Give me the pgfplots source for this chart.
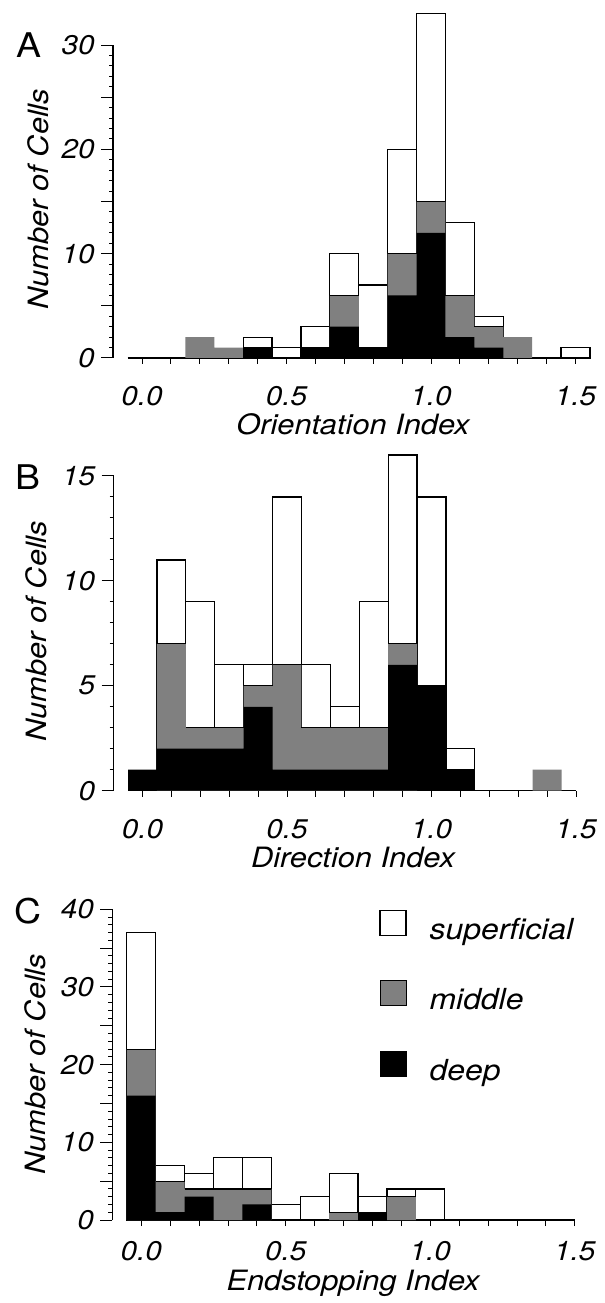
\documentclass[border=0pt]{standalone}
\usepackage{fontspec}
\setmainfont{TeX Gyre Heros}[FakeStretch=1.1]
\usepackage{pgfplots}
\usepackage{pgfplotstable}
\pgfplotsset{compat=1.18}

\definecolor{midgray}{gray}{0.5}

\newcommand\tickfont{\fontsize{13.5}{16}\selectfont\itshape}
\newcommand\labfont{\fontsize{14}{17}\selectfont\itshape}
\newcommand\legfont{\fontsize{14.5}{17}\selectfont\itshape}
\newcommand\panelfont{\fontsize{17}{20}\selectfont}

% cell counts per bin (bin centre x), split by laminar position
\pgfplotstableread{
x    deep mid sup
0.0  0    0   0
0.1  0    0   0
0.2  0    2   0
0.3  0    1   0
0.4  1    0   1
0.5  0    0   1
0.6  1    0   2
0.7  3    3   4
0.8  1    0   6
0.9  6    4   10
1.0  12   3   18
1.1  2    4   7
1.2  1    2   1
1.3  0    2   0
1.4  0    0   0
1.5  0    0   1
}\orientation

\pgfplotstableread{
x    deep mid sup
0.0  1    0   0
0.1  2    5   4
0.2  2    1   6
0.3  2    1   3
0.4  4    1   1
0.5  1    5   8
0.6  1    2   3
0.7  1    2   1
0.8  1    2   6
0.9  6    1   9
1.0  5    0   9
1.1  1    0   1
1.2  0    0   0
1.3  0    0   0
1.4  0    1   0
1.5  0    0   0
}\direction

\pgfplotstableread{
x    deep mid sup
0.0  16   6   15
0.1  1    4   2
0.2  3    1   2
0.3  0    4   4
0.4  2    2   4
0.5  0    0   2
0.6  0    0   3
0.7  0    1   5
0.8  1    0   2
0.9  0    3   1
1.0  0    0   4
1.1  0    0   0
1.2  0    0   0
1.3  0    0   0
1.4  0    0   0
1.5  0    0   0
}\endstopping

\pgfplotsset{
  layerhist/.style={
    scale only axis,
    axis x line*=bottom, axis y line*=left,
    x axis line style={draw=none},
    y axis line style={line width=0.6pt},
    xmin=-0.1, xmax=1.55, ymin=0,
    x=144.5pt,
    clip=false,
    tick align=outside,
    major tick length=6pt, minor tick length=2pt,
    tick style={line width=0.5pt, black},
    xtick style={/pgfplots/major tick length=3pt},
    xtick={0,0.1,0.2,0.3,0.4,0.5,0.6,0.7,0.8,0.9,1.0,1.1,1.2,1.3,1.4,1.5},
    xticklabels={0.0,,,,,0.5,,,,,1.0,,,,,1.5},
    minor y tick num=4,
    ticklabel style={font=\tickfont, inner sep=0.5pt},
    xticklabel style={yshift=-7.5pt},
    yticklabel style={xshift=-2.5pt},
  },
  % superficial: outlined white blocks stacked on top of deep + middle
  supbar/.style={ybar, bar width=0.1, bar shift=0pt, fill=white, draw=black, line width=0.6pt},
  midbar/.style={ybar, bar width=0.1, bar shift=0pt, fill=midgray, draw=none},
  deepbar/.style={ybar, bar width=0.1, bar shift=0pt, fill=black, draw=none},
  % lower edge of each white block
  divider/.style={draw=none, mark=none, forget plot,
    error bars/.cd, x dir=both, x fixed=0.05, error mark=none,
    error bar style={draw=black, solid, line width=0.6pt}},
}

\newcommand\histlayers[1]{%
  \draw[line width=0.6pt] (axis cs:-0.05,0) -- (axis cs:1.5,0);
  \addplot[supbar] table[x=x, y expr=\thisrow{deep}+\thisrow{mid}+\thisrow{sup},
    restrict expr to domain={\thisrow{sup}}{1:1000}] {#1};
  \addplot[midbar] table[x=x, y expr=\thisrow{deep}+\thisrow{mid},
    restrict expr to domain={\thisrow{mid}}{1:1000}] {#1};
  \addplot[deepbar] table[x=x, y=deep,
    restrict expr to domain={\thisrow{deep}}{1:1000}] {#1};
  \addplot[divider] table[x=x, y expr=\thisrow{deep}+\thisrow{mid},
    restrict expr to domain={min(\thisrow{sup},\thisrow{deep}+\thisrow{mid})}{1:1000}] {#1};
}

\begin{document}
\begin{tikzpicture}
\useasboundingbox (0,0) rectangle (302.5pt,651.5pt);

% A: orientation
\begin{axis}[layerhist, at={(56.55pt,472.5pt)}, anchor=south west,
  y=5.215pt, ymax=30,
  ytick={0,5,...,30}, yticklabels={0,,10,,20,,30}]
  \histlayers{\orientation}
\end{axis}

% B: direction
\begin{axis}[layerhist, at={(56.8pt,256.15pt)}, anchor=south west,
  y=10.49pt, ymax=15,
  ytick={0,5,10,15}, yticklabels={0,5,10,15}]
  \histlayers{\direction}
\end{axis}

% C: end-stopping
\begin{axis}[layerhist, at={(56.2pt,41.5pt)}, anchor=south west,
  y=3.884pt, ymax=40,
  ytick={0,5,...,40}, yticklabels={0,,10,,20,,30,,40},
  xticklabel style={yshift=3.5pt},
  legend image code/.code={\draw[#1] (0pt,2pt) rectangle (13pt,14.5pt);},
  legend style={at={(axis cs:0.8225,40.0)}, anchor=north west,
    draw=none, fill=none, inner sep=0pt, row sep=17.5pt,
    font=\legfont,
    cells={anchor=base west},
    nodes={inner sep=0pt, text height=10.5pt, text depth=3pt},
    /tikz/every odd column/.append style={column sep=11.5pt}}]
  \histlayers{\endstopping}
  \legend{superficial, middle, deep}
\end{axis}

% panel letters
\node[font=\panelfont] at (14.5pt,629pt) {A};
\node[font=\panelfont] at (14.2pt,412.75pt) {B};
\node[font=\panelfont] at (14.2pt,196pt) {C};

% axis titles
\node[font=\labfont, anchor=base, inner sep=0pt] at (176.5pt,434pt) {Orientation Index};
\node[font=\labfont, anchor=base, inner sep=0pt] at (176.5pt,217.5pt) {Direction Index};
\node[font=\labfont, anchor=base, inner sep=0pt] at (176.5pt,6.3pt) {Endstopping Index};
\node[font=\labfont, rotate=90, inner sep=0pt] at (19.3pt,552pt) {Number of Cells};
\node[font=\labfont, rotate=90, inner sep=0pt] at (18pt,336pt) {Number of Cells};
\node[font=\labfont, rotate=90, inner sep=0pt] at (17.5pt,119.5pt) {Number of Cells};
\end{tikzpicture}
\end{document}
